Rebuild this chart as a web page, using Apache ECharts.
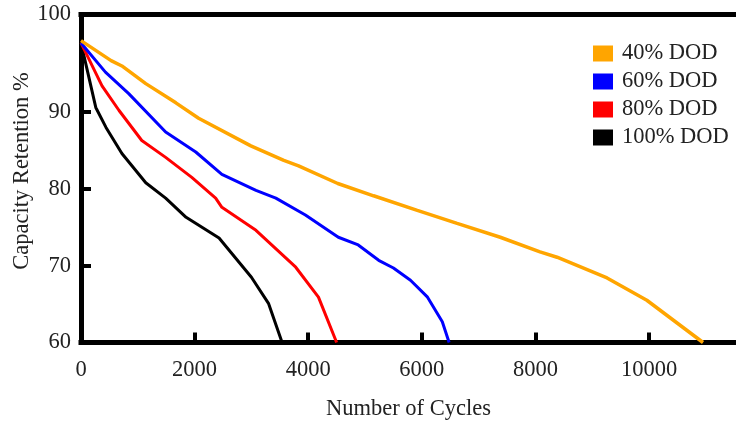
<!DOCTYPE html>
<html>
<head>
<meta charset="utf-8">
<script src="https://cdn.jsdelivr.net/npm/echarts@6/dist/echarts.min.js"></script>
<style>
    html, body { margin: 0; padding: 0; background: #fff; }
    #capacityChart { width: 736px; height: 424px; }
</style>
</head>
<body>
<div id="capacityChart"></div>
<script>
    // values
    var seriesNames = ['40% DOD', '60% DOD', '80% DOD', '100% DOD'];
    var seriesColors = ['#FFA500', '#0000FF', '#FF0000', '#000000'];

    var cycles40 = [0, 530, 720, 1140, 1670, 2070, 2990, 3570, 3830, 4520, 5150, 5920, 6620, 7380, 8080, 8380, 9260, 9960, 10950];
    var retention40 = [99.3, 96.7, 96.0, 93.7, 91.2, 89.2, 85.6, 83.7, 83.0, 80.7, 79.1, 77.2, 75.5, 73.7, 71.8, 71.1, 68.4, 65.5, 60.0];

    var cycles60 = [0, 430, 840, 1490, 2020, 2480, 3080, 3430, 3950, 4530, 4880, 5240, 5500, 5800, 6100, 6360, 6480];
    var retention60 = [99.0, 95.2, 92.4, 87.4, 84.8, 81.9, 79.8, 78.8, 76.6, 73.7, 72.7, 70.7, 69.7, 68.1, 65.9, 62.7, 60.0];

    var cycles80 = [0, 370, 670, 1070, 1490, 1950, 2370, 2480, 3080, 3780, 4180, 4500];
    var retention80 = [99.0, 93.4, 90.2, 86.3, 84.1, 81.5, 78.8, 77.6, 74.6, 69.8, 65.9, 60.0];

    var cycles100 = [0, 260, 440, 720, 1140, 1490, 1850, 2430, 3000, 3300, 3540];
    var retention100 = [99.0, 90.6, 88.0, 84.6, 80.8, 78.8, 76.3, 73.6, 68.5, 65.1, 60.0];

    var xTicks = [0, 2000, 4000, 6000, 8000, 10000];
    var yTicks = [70, 80, 90];
    var yLabels = [60, 70, 80, 90, 102.7];

    function pairs(xs, ys) {
        return xs.map(function (x, i) { return [x, ys[i]]; });
    }

    var allData = [
        pairs(cycles40, retention40),
        pairs(cycles60, retention60),
        pairs(cycles80, retention80),
        pairs(cycles100, retention100)
    ];

    var fontFamily = '"Liberation Serif", "DejaVu Serif", serif';
    var fontSize = 22.5;

    var chart = echarts.init(document.getElementById('capacityChart'));
    chart.setOption({
        animation: false,
        textStyle: { fontFamily: fontFamily },
        grid: {
            left: 81,
            right: 0,
            top: 14.5,
            bottom: 81.5,
            outerBoundsMode: 'none'
        },
        legend: {
            data: seriesNames,
            orient: 'vertical',
            left: 593,
            top: 42,
            padding: 0,
            icon: 'rect',
            itemWidth: 20,
            itemHeight: 16,
            itemGap: 5,
            textStyle: {
                fontFamily: fontFamily,
                fontSize: fontSize,
                color: '#222',
                padding: [0, 0, 0, 4]
            }
        },
        xAxis: [
            {
                type: 'value',
                min: 0,
                max: 11530,
                interval: 2000,
                name: 'Number of Cycles',
                nameLocation: 'middle',
                nameGap: 55,
                nameTextStyle: { fontFamily: fontFamily, fontSize: fontSize, color: '#222' },
                splitLine: { show: false },
                axisLine: { lineStyle: { color: '#000', width: 5, cap: 'square' } },
                axisTick: {
                    inside: true,
                    length: 10,
                    customValues: xTicks.slice(1),
                    lineStyle: { color: '#000', width: 4 }
                },
                axisLabel: {
                    customValues: xTicks,
                    margin: 16,
                    fontFamily: fontFamily,
                    fontSize: fontSize,
                    color: '#222',
                    formatter: function (v) { return String(Math.round(v)); }
                }
            },
            {
                type: 'value',
                position: 'top',
                min: 0,
                max: 11530,
                splitLine: { show: false },
                axisLine: { lineStyle: { color: '#000', width: 5, cap: 'square' } },
                axisTick: { show: false },
                axisLabel: { show: false }
            }
        ],
        yAxis: {
            type: 'value',
            min: 60,
            max: 102.7,
            name: 'Capacity Retention %',
            nameLocation: 'middle',
            nameGap: 47,
            nameMoveOverlap: false,
            nameTextStyle: {
                fontFamily: fontFamily,
                fontSize: fontSize,
                color: '#222',
                padding: [0, 0, 0, 15]
            },
            splitLine: { show: false },
            axisLine: { lineStyle: { color: '#000', width: 5, cap: 'square' } },
            axisTick: {
                inside: true,
                length: 10,
                customValues: yTicks,
                lineStyle: { color: '#000', width: 4 }
            },
            axisLabel: {
                customValues: yLabels,
                margin: 10,
                fontFamily: fontFamily,
                fontSize: fontSize,
                color: '#222',
                formatter: function (v) {
                    return v > 100 ? '100' : String(Math.round(v));
                }
            }
        },
        series: seriesNames.map(function (name, i) {
            return {
                name: name,
                type: 'line',
                data: allData[i],
                showSymbol: false,
                symbol: 'none',
                smooth: false,
                itemStyle: { color: seriesColors[i] },
                lineStyle: { color: seriesColors[i], width: i === 0 ? 3.5 : 3 },
                z: 10 - i
            };
        })
    });
</script>
</body>
</html>
